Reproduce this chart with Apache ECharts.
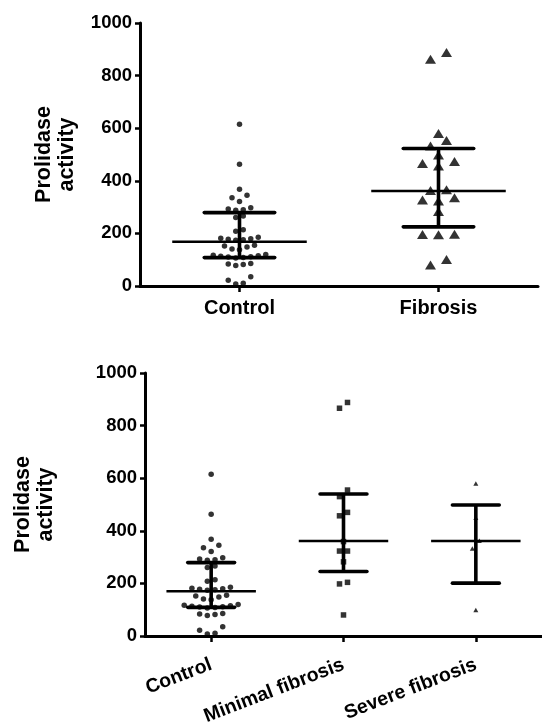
<!DOCTYPE html>
<html>
<head>
<meta charset="utf-8">
<script src="https://cdn.jsdelivr.net/npm/echarts@6/dist/echarts.min.js"></script>
<style>
html,body{margin:0;padding:0;background:#fff;}
#chart{width:542px;height:728px;}
</style>
</head>
<body>
<div id="chart"></div>
<script>
// ---- data ----
const topCategories = ['Control', 'Fibrosis'];
const bottomCategories = ['Control', 'Minimal fibrosis', 'Severe fibrosis'];

const controlValues = [615, 463, 368, 336, 345, 321, 288, 290, 293, 298, 260, 266, 208, 214,
  174, 176, 178, 180, 182, 185, 138, 141, 148, 152, 155,
  106, 108, 110, 111, 113, 115, 117, 120, 78, 82, 84, 86, 8, 10, 22, 35];
const fibrosisValues = [862, 888, 553, 580, 532, 498, 473, 456, 466, 363, 366, 327, 323, 336,
  283, 195, 196, 197, 80, 101];
const minimalValues = [888, 866, 555, 530, 470, 457, 359, 323, 323, 282, 204, 198, 80];
const severeValues = [580, 450, 362, 333, 99];

const topMedian = [168, 361];
const topQ1 = [108, 225];
const topQ3 = [279, 523];
const bottomMedian = [170, 361, 361];
const bottomQ1 = [109, 245, 201];
const bottomQ3 = [279, 540, 498];

const yMin = 0, yMax = 1000, yStep = 200;
const yTitle = 'Prolidase\nactivity';

// ---- layout helpers (scatter dot-plot row layout) ----
function swarm(values, T, S, step) {
  const idx = values.map((v, i) => i).sort((a, b) => values[a] - values[b]);
  const rows = []; let row = [];
  idx.forEach(i => {
    const v = values[i];
    if (row.length && (v - values[row[row.length - 1]] > T || v - values[row[0]] > S)) { rows.push(row); row = []; }
    row.push(i);
  });
  if (row.length) rows.push(row);
  const off = new Array(values.length).fill(0);
  rows.forEach(r => {
    const n = r.length, slots = [];
    for (let k = 0; k < n; k++) slots.push((k - (n - 1) / 2) * step);
    slots.sort((a, b) => Math.abs(a) - Math.abs(b) || a - b);
    r.forEach((i, j) => { off[i] = slots[j]; });
  });
  return off;
}
function pts(cat, values, T, S, step) {
  const off = swarm(values, T, S, step);
  return values.map((v, i) => ({ value: [cat, v], symbolOffset: [off[i], 0] }));
}
function summary(med, q1, q3) {
  return med.map((m, i) => [i, m, q1[i], q3[i]]);
}

const FONT = 'Liberation Sans, Arial, sans-serif';

function renderBars(params, api) {
  const x = api.value(0);
  const med = api.coord([x, api.value(1)]);
  const lo = api.coord([x, api.value(2)]);
  const hi = api.coord([x, api.value(3)]);
  const band = api.size([1, 0])[0];
  const hm = band * 0.338, hq = band * 0.177;
  const st = (w) => ({ stroke: '#000', lineWidth: w });
  return {
    type: 'group', children: [
      { type: 'line', shape: { x1: med[0] - hm, y1: med[1], x2: med[0] + hm, y2: med[1] }, style: st(2.5) },
      { type: 'line', shape: { x1: lo[0] - hq, y1: lo[1], x2: lo[0] + hq, y2: lo[1] }, style: Object.assign(st(3.6), { lineCap: 'round' }) },
      { type: 'line', shape: { x1: hi[0] - hq, y1: hi[1], x2: hi[0] + hq, y2: hi[1] }, style: Object.assign(st(3.6), { lineCap: 'round' }) },
      { type: 'line', shape: { x1: lo[0], y1: lo[1], x2: hi[0], y2: hi[1] }, style: st(3.6) }
    ]
  };
}

function yAxis(gridIndex, nameGap) {
  return {
    gridIndex, type: 'value', min: yMin, max: yMax, interval: yStep,
    name: yTitle, nameLocation: 'middle', nameGap, nameRotate: 90,
    nameTextStyle: { fontFamily: FONT, fontWeight: 'bold', fontSize: 21.5, lineHeight: 23, color: '#000' },
    axisLine: { show: true, lineStyle: { color: '#000', width: 3 } },
    axisTick: { show: true, length: 5, lineStyle: { color: '#000', width: 2.5 } },
    axisLabel: { fontFamily: FONT, fontWeight: 'bold', fontSize: 18.5, color: '#000', margin: 8,
      formatter: (v) => String(v) },
    splitLine: { show: false }
  };
}
function xAxis(gridIndex, cats, rotate, margin, fontSize) {
  return {
    gridIndex, type: 'category', data: cats,
    axisLine: { show: true, lineStyle: { color: '#000', width: 3 } },
    axisTick: { show: true, alignWithLabel: true, length: 6, lineStyle: { color: '#000', width: 2.5 } },
    axisLabel: { fontFamily: FONT, fontWeight: 'bold', fontSize, color: '#000', margin, rotate, interval: 0 },
    splitLine: { show: false }
  };
}

const chart = echarts.init(document.getElementById('chart'), null, { renderer: 'canvas' });
chart.setOption({
  animation: false,
  backgroundColor: '#fff',
  grid: [
    { left: 140, top: 23, width: 398, height: 263, outerBoundsMode: 'none', containLabel: false },
    { left: 145, top: 373, right: 0, height: 263, outerBoundsMode: 'none', containLabel: false }
  ],
  xAxis: [xAxis(0, topCategories, 0, 12, 20), xAxis(1, bottomCategories, 21, 28, 19.5)],
  yAxis: [yAxis(0, 61), yAxis(1, 87)],
  series: [
    { type: 'scatter', xAxisIndex: 0, yAxisIndex: 0, symbol: 'circle', symbolSize: 5.5,
      itemStyle: { color: '#000' }, data: pts(0, controlValues, 16, 32, 7.5) },
    { type: 'scatter', xAxisIndex: 0, yAxisIndex: 0, symbol: 'triangle', symbolSize: [11, 9],
      itemStyle: { color: '#000' }, data: pts(1, fibrosisValues, 27, 30, 16) },
    { type: 'custom', xAxisIndex: 0, yAxisIndex: 0, renderItem: renderBars,
      encode: { x: 0, y: [1, 2, 3] }, data: summary(topMedian, topQ1, topQ3), z: 3 },

    { type: 'scatter', xAxisIndex: 1, yAxisIndex: 1, symbol: 'circle', symbolSize: 5.5,
      itemStyle: { color: '#000' }, data: pts(0, controlValues, 16, 32, 7.7) },
    { type: 'scatter', xAxisIndex: 1, yAxisIndex: 1, symbol: 'rect', symbolSize: 5.5,
      itemStyle: { color: '#000' }, data: pts(1, minimalValues, 26, 32, 8) },
    { type: 'scatter', xAxisIndex: 1, yAxisIndex: 1, symbol: 'triangle', symbolSize: [5, 4.5],
      itemStyle: { color: '#000' }, data: pts(2, severeValues, 30, 32, 7) },
    { type: 'custom', xAxisIndex: 1, yAxisIndex: 1, renderItem: renderBars,
      encode: { x: 0, y: [1, 2, 3] }, data: summary(bottomMedian, bottomQ1, bottomQ3), z: 3 }
  ]
});
</script>
</body>
</html>
